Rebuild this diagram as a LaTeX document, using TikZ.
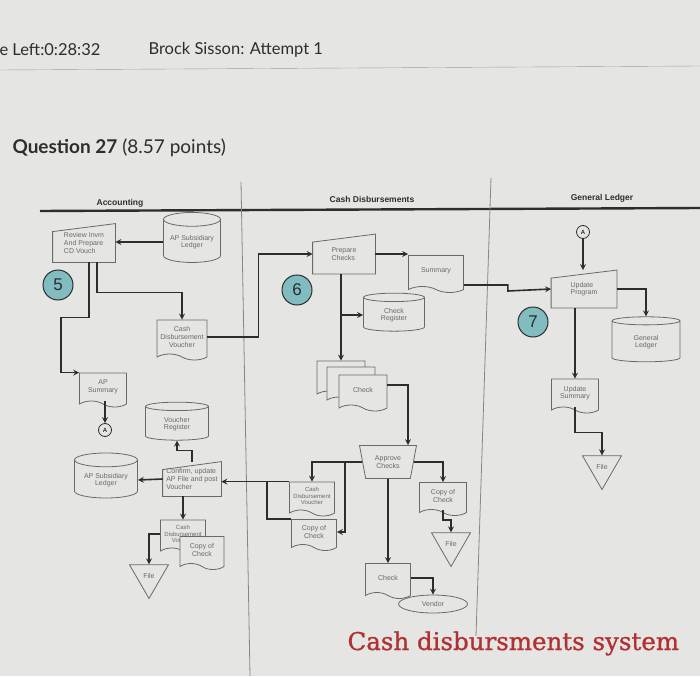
\documentclass[tikz,border=0pt]{standalone}
\usepackage{fontspec}
\setmainfont{Liberation Sans}
\newfontfamily\latofont{Lato}
\newfontfamily\capfont[FakeBold=1]{DejaVu Serif}
\usetikzlibrary{shapes.geometric,shapes.symbols}

\definecolor{screen}{RGB}{229,230,227}
\definecolor{inkgray}{RGB}{105,105,105}
\definecolor{wiregray}{RGB}{45,45,45}
\definecolor{numfill}{RGB}{128,188,192}
\definecolor{capred}{RGB}{178,48,50}
\definecolor{hdrtext}{RGB}{45,45,45}
\newcommand{\fl}{\fontsize{7}{7.6}\selectfont}
\newcommand{\fs}{\fontsize{6}{6.6}\selectfont}

\begin{document}
\begin{tikzpicture}[x=1pt, y=-1pt, >=stealth,
    flow/.style={draw=wiregray, line width=1.6pt},
    shp/.style={draw=inkgray, line width=0.8pt, text=inkgray, font=\fl, align=center, inner sep=1pt},
    doc/.style={shp, tape, tape bend top=none, tape bend bottom=out and in, tape bend height=6pt, fill=screen},
    disk/.style={shp, cylinder, shape border rotate=90, aspect=0.3},
    manin/.style={shp, draw=none, align=left,
        append after command={\pgfextra{\draw[draw=inkgray, line width=0.8pt]
            (\tikzlastnode.south west) -- ([yshift=-8pt]\tikzlastnode.north west)
            -- (\tikzlastnode.north east) -- (\tikzlastnode.south east) -- cycle;}}},
    manop/.style={shp, trapezium, trapezium left angle=75, trapezium right angle=75,
        shape border rotate=180, trapezium stretches=true},
    filetri/.style={shp, regular polygon, regular polygon sides=3, shape border rotate=180,
        minimum size=45pt, inner sep=0pt},
    numdisk/.style={circle, draw=wiregray, line width=1pt, fill=numfill, minimum size=30pt,
        inner sep=0pt, text=wiregray, font=\fontsize{17}{17}\selectfont},
    offpage/.style={circle, draw=wiregray, line width=0.8pt, minimum size=13pt, inner sep=0pt,
        text=wiregray, font=\fontsize{6}{6}\selectfont\bfseries},
    lane/.style={text=wiregray, font=\fontsize{8.5}{8.5}\selectfont\bfseries}]

    % screen
    \useasboundingbox (0,0) rectangle (700,676);
    \fill[screen] (0,0) rectangle (700,676);

    % header
    \node[anchor=west, text=hdrtext, font=\latofont\fontsize{16.5}{16.5}\selectfont] (tleft) at (-4,50) {e Left:0:28:32};
    \node[anchor=west, text=hdrtext, font=\latofont\fontsize{16.5}{16.5}\selectfont] (who) at (145,50) {Brock Sisson: Attempt 1};
    \draw[gray!75] (0,70) -- (700,66);
    \node[anchor=west, text=hdrtext, font=\latofont\fontsize{19}{19}\selectfont] (qst) at (9,148) {\textbf{Question 27} (8.57 points)};

    % lanes
    \node[lane] (lacc) at (120,203) {Accounting};
    \node[lane] (lcd) at (372,199) {Cash Disbursements};
    \node[lane] (lgl) at (602,198) {General Ledger};
    \draw[wiregray, line width=2.4pt] (40,211) -- (700,208);
    \draw[gray!95, line width=0.8pt] (241,182) -- (250,676);
    \draw[gray!95, line width=0.8pt] (491,178) -- (476,636);

    % Accounting
    \node[manin, minimum width=62pt, minimum height=38pt] (rev) at (84,243) {Review Invm\\And Prepare\\CD Vouch};
    \node[disk, minimum width=57pt, minimum height=50pt] (apsl) at (192,242) {AP Subsidiary\\Ledger};
    \node[numdisk] (n5) at (58,285) {5};
    \node[doc, minimum width=50pt, minimum height=40pt] (cdv) at (182,337) {Cash\\Disbursement\\Voucher};
    \node[doc, minimum width=47pt, minimum height=34pt] (aps) at (103,387) {AP\\Summary};
    \node[offpage] (conA1) at (105,430) {A};
    \node[disk, minimum width=63pt, minimum height=38pt] (vr) at (177,424) {Voucher\\Register};
    \node[manin, minimum width=58pt, minimum height=34pt] (conf) at (192,479) {Confirm, update\\AP File and post\\Voucher};
    \node[disk, minimum width=63pt, minimum height=45pt] (apsl2) at (106,480) {AP Subsidiary\\Ledger};
    \node[doc, font=\fs, minimum width=45pt, minimum height=34pt] (cdv3) at (183,534) {Cash\\Disbursement\\Voucher};
    \node[doc, minimum width=44pt, minimum height=33pt] (copy4) at (202,550) {Copy of\\Check};
    \node[filetri] (file1) at (149,576) {File};

    % Cash Disbursements
    \node[manin, minimum width=62pt, minimum height=39pt] (prep) at (344,254) {Prepare\\Checks};
    \node[numdisk] (n6) at (297,290) {6};
    \node[doc, minimum width=55pt, minimum height=37pt] (summ) at (436,271) {Summary};
    \node[disk, minimum width=61pt, minimum height=38pt] (cr) at (394,315) {Check\\Register};
    \node[doc, minimum width=48pt, minimum height=36pt] (chkA) at (341,376) {};
    \node[doc, minimum width=48pt, minimum height=36pt] (chkB) at (351,382) {};
    \node[doc, minimum width=48pt, minimum height=36pt] (chk) at (363,390) {Check};
    \node[manop, minimum width=57pt, minimum height=33pt] (appr) at (388,462) {Approve\\Checks};
    \node[doc, font=\fs, minimum width=45pt, minimum height=34pt] (cdv2) at (312,496) {Cash\\Disbursement\\Voucher};
    \node[doc, minimum width=45pt, minimum height=31pt] (copy2) at (314,532) {Copy of\\Check};
    \node[doc, minimum width=47pt, minimum height=33pt] (copy3) at (443,496) {Copy of\\Check};
    \node[filetri] (file2) at (451,544) {File};
    \node[doc, minimum width=45pt, minimum height=35pt] (chk2) at (388,578) {Check};
    \node[shp, ellipse, minimum width=69pt, minimum height=18pt] (vend) at (433,604) {Vendor};

    % General Ledger
    \node[offpage] (conA2) at (583,232) {A};
    \node[manin, minimum width=65pt, minimum height=37pt] (upd) at (584,289) {Update\\Program};
    \node[numdisk] (n7) at (533,322) {7};
    \node[disk, minimum width=68pt, minimum height=45pt] (gl) at (646,342) {General\\Ledger};
    \node[doc, minimum width=47pt, minimum height=34pt] (usum) at (575,393) {Update\\Summary};
    \node[filetri] (file3) at (602,467) {File};

    % flows, accounting
    \draw[flow,->] (apsl.west) -- (apsl.west -| rev.east);
    \draw[flow,->] ([xshift=13pt]rev.south) -- ++(0,30) -| (cdv.north);
    \draw[flow,->] ([xshift=5pt]rev.south) -- ++(0,55) -| ([xshift=-18pt]aps.north west) -- (aps.north west);
    \draw[flow,->] (aps.south -| conA1.north) -- (conA1.north);
    \draw[flow,->] (conf.north) -- ++(0,-11) -| (vr.south);
    \draw[flow,->] (conf.west) -- (apsl2.east);
    \draw[flow,->] (cdv3.north |- conf.south) -- (cdv3.north);
    \draw[flow,->] (cdv3.west) -| (file1.north);

    % flows, cash disbursements
    \draw[flow,->] (cdv.east) -- ++(51,0) |- (prep.west);
    \draw[flow,->] (prep.east) -- (prep.east -| summ.west);
    \draw[flow,->] (prep.south -| chkA.north) -- (chkA.north);
    \draw[flow,->] (chkA.north |- cr.west) -- (cr.west);
    \draw[flow,->] ([yshift=5pt]chk.east) -| ([xshift=20pt]appr.north);
    \draw[flow,->] (appr.west) -| (cdv2.north);
    \draw[flow,->] (appr.west) ++(-17,0) |- (copy2.east);
    \draw[flow,->] (cdv2.north west) -- (cdv2.north west -| conf.east);
    \draw[flow] (copy2.north west) -| ([xshift=-22pt]cdv2.north west);
    \draw[flow,->] (appr.south) -- (chk2.north);
    \draw[flow,->] (chk2.east) -| (vend.north);
    \draw[flow,->] (appr.east) -| (copy3.north);
    \draw[flow,->] (copy3.south) -- ++(0,10) -| (file2.north);

    % flows, general ledger
    \draw[flow,->] ([yshift=-14pt]summ.east) -| ++(44,6) -- (upd.west);
    \draw[flow,->] (conA2.south) -- (conA2.south |- upd.north);
    \draw[flow,->] (upd.east) -| (gl.north);
    \draw[flow,->] (usum.north |- upd.south) -- (usum.north);
    \draw[flow,->] (usum.south) -- ++(0,25) -| (file3.north);

    % caption
    \node[anchor=base west, text=capred, font=\capfont\fontsize{24.5}{24.5}\selectfont] (cap) at (344,650) {Cash disbursments system};

\end{tikzpicture}
\end{document}
